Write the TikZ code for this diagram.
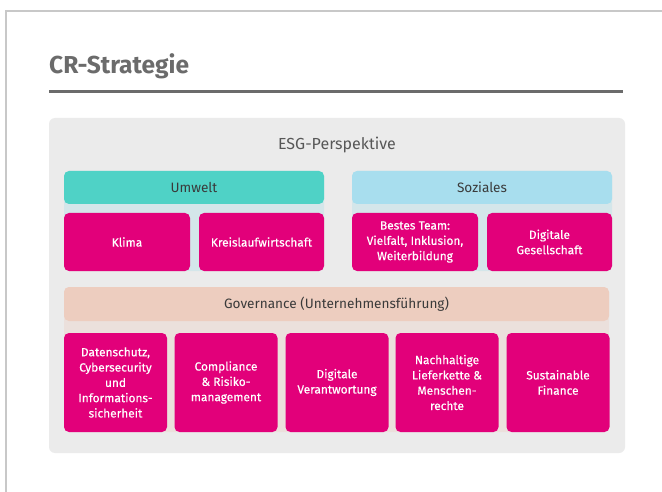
\documentclass[tikz,border=0pt]{standalone}
\usepackage{fontspec}
\setmainfont{Fira Sans}
\newfontfamily\topicfont[FakeBold=0.35]{Fira Sans}
\definecolor{magentaT}{HTML}{E2007A}
\definecolor{panelgray}{HTML}{EBEBEB}
\definecolor{envhead}{HTML}{4FD2C6}
\definecolor{envback}{HTML}{D4E6EA}
\definecolor{sochead}{HTML}{A8DEEE}
\definecolor{govhead}{HTML}{EDCDBF}
\definecolor{govback}{HTML}{EBE0DC}
\definecolor{titlegray}{HTML}{6B6B6B}
\definecolor{framegray}{HTML}{C8C8C8}
\definecolor{headtext}{HTML}{3A3A3A}
\tikzset{
  pillar/.style={rounded corners=5pt, minimum width=#1, minimum height=33pt, inner sep=0pt,
    font=\fontsize{13.6}{16}\selectfont, text=headtext},
  topic/.style={fill=magentaT, rounded corners=5pt, inner sep=0pt, text=white, align=center,
    font=\topicfont\fontsize{11.9}{15.3}\selectfont},
  upper/.style={topic, minimum width=#1, minimum height=58pt},
  lower/.style={topic, minimum width=103pt, minimum height=99pt},
}
\begin{document}
\begin{tikzpicture}[x=1pt, y=-1pt]
  \useasboundingbox (0,0) rectangle (662,492);
  \fill[white] (0,0) rectangle (662,492);
  % page frame
  \draw[framegray, line width=1.5pt] (6,492) -- (6,11) -- (662,11);
  % heading and rule
  \node[anchor=base west, inner sep=0pt, text=titlegray, font=\fontsize{24.5}{29}\selectfont\bfseries] (title) at (49,74) {CR-Strategie};
  \draw[titlegray, line width=3pt] (49,92) -- (623,92);
  % main panel
  \fill[panelgray, rounded corners=6pt] (49,118) rectangle (625,453);
  \node[text=headtext!85, font=\fontsize{16}{19}\selectfont] (esg) at (337,145) {ESG-Perspektive};
  % pillar backgrounds
  \fill[envback, rounded corners=5pt] (64,171) rectangle (324,271);
  \fill[envback, rounded corners=5pt] (352,171) rectangle (612,271);
  \fill[govback, rounded corners=5pt] (64,287) rectangle (609,432);
  % pillar headers
  \node[pillar=260pt, fill=envhead] (umwelt) at (194,187.5) {Umwelt};
  \node[pillar=260pt, fill=sochead] (soziales) at (482,187.5) {Soziales};
  \node[pillar=545pt, fill=govhead, minimum height=34pt] (gov) at (336.5,304) {Governance (Unternehmensführung)};
  % environmental topics
  \node[upper=126pt] (klima) at (127,242) {Klima};
  \node[upper=125pt] (kreis) at (261.5,242) {Kreislaufwirtschaft};
  % social topics
  \node[upper=126pt] (team) at (415,242) {Bestes Team:\\Vielfalt, Inklusion,\\Weiterbildung};
  \node[upper=125pt] (digges) at (549.5,242) {Digitale\\Gesellschaft};
  % governance topics
  \node[lower] (daten) at (115.5,382.5) {Datenschutz,\\Cybersecurity\\und\\Informations-\\sicherheit};
  \node[lower] (compl) at (226,382.5) {Compliance\\\& Risiko-\\management};
  \node[lower] (digver) at (337,382.5) {Digitale\\Verantwortung};
  \node[lower] (liefer) at (447,382.5) {Nachhaltige\\Lieferkette \&\\Menschen-\\rechte};
  \node[lower] (finance) at (558,382.5) {Sustainable\\Finance};
\end{tikzpicture}
\end{document}
